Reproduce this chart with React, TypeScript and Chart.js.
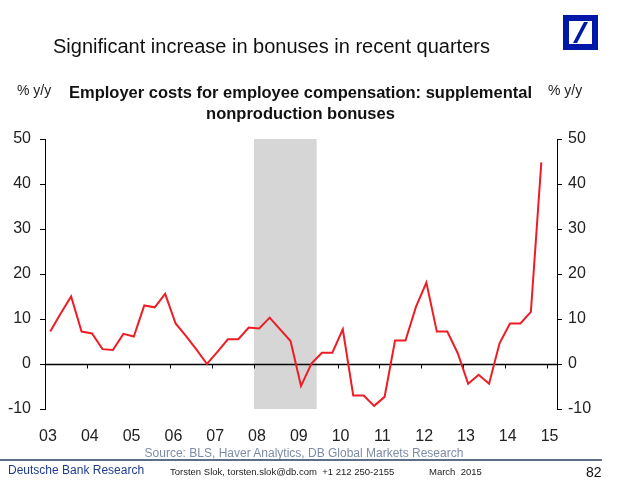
import { useEffect, useRef } from "react";
import { Chart, registerables } from "chart.js";

Chart.register(...registerables);

const quarters: string[] = [
  "2003Q1", "2003Q2", "2003Q3", "2003Q4",
  "2004Q1", "2004Q2", "2004Q3", "2004Q4",
  "2005Q1", "2005Q2", "2005Q3", "2005Q4",
  "2006Q1", "2006Q2", "2006Q3", "2006Q4",
  "2007Q1", "2007Q2", "2007Q3", "2007Q4",
  "2008Q1", "2008Q2", "2008Q3", "2008Q4",
  "2009Q1", "2009Q2", "2009Q3", "2009Q4",
  "2010Q1", "2010Q2", "2010Q3", "2010Q4",
  "2011Q1", "2011Q2", "2011Q3", "2011Q4",
  "2012Q1", "2012Q2", "2012Q3", "2012Q4",
  "2013Q1", "2013Q2", "2013Q3", "2013Q4",
  "2014Q1", "2014Q2", "2014Q3", "2014Q4",
];

const bonusYoY: number[] = [
  7.2, 11.2, 15.0, 7.2,
  6.8, 3.3, 3.1, 6.7,
  6.1, 13.0, 12.6, 15.6,
  9.0, 6.2, 3.2, 0.0,
  2.7, 5.5, 5.5, 8.1,
  7.9, 10.3, 7.7, 5.1,
  -4.9, 0.1, 2.5, 2.5,
  7.7, -7.0, -7.0, -9.3,
  -7.3, 5.2, 5.2, 12.7,
  18.1, 7.2, 7.2, 2.4,
  -4.4, -2.4, -4.4, 4.6,
  9.0, 9.0, 11.6, 44.8,
];

const yearTicks: number[] = [2003, 2004, 2005, 2006, 2007, 2008, 2009, 2010, 2011, 2012, 2013, 2014, 2015];
const yearLabels: string[] = ["03", "04", "05", "06", "07", "08", "09", "10", "11", "12", "13", "14", "15"];
const yTicks: number[] = [-10, 0, 10, 20, 30, 40, 50];
const recession: [number, number] = [2008.0, 2009.5];

const FONT = "'Liberation Sans', Arial, Helvetica, sans-serif";

function quarterToYear(q: string): number {
  const yr = parseInt(q.slice(0, 4), 10);
  const qn = parseInt(q.slice(5), 10);
  return yr + (qn - 0.5) / 4;
}

const decorPlugin = {
  id: "decor",
  beforeDatasetsDraw(chart: any) {
    const { ctx, chartArea, scales } = chart;
    const x = scales.x;
    const y = scales.y;
    ctx.save();
    const x0 = x.getPixelForValue(recession[0]);
    const x1 = x.getPixelForValue(recession[1]);
    ctx.fillStyle = "#d6d6d6";
    ctx.fillRect(x0, chartArea.top, x1 - x0, chartArea.bottom - chartArea.top);
    const y0 = Math.round(y.getPixelForValue(0)) + 0.5;
    ctx.strokeStyle = "#000";
    ctx.lineWidth = 1.3;
    ctx.beginPath();
    ctx.moveTo(chartArea.left, y0);
    ctx.lineTo(chartArea.right, y0);
    ctx.stroke();
    ctx.lineWidth = 1;
    ctx.beginPath();
    for (const yr of yearTicks) {
      const px = Math.round(x.getPixelForValue(yr)) + 0.5;
      ctx.moveTo(px, y0);
      ctx.lineTo(px, y0 + 4);
    }
    ctx.stroke();
    ctx.restore();
  },
};

function ChartCanvas() {
  const ref = useRef<HTMLCanvasElement | null>(null);
  useEffect(() => {
    if (!ref.current) return;
    const points = quarters.map((q, i) => ({ x: quarterToYear(q), y: bonusYoY[i] }));
    const tickFont = { family: FONT, size: 16 };
    const yAxisCommon = {
      type: "linear" as const,
      min: -10,
      max: 50,
      afterBuildTicks: (s: any) => {
        s.ticks = yTicks.map((v) => ({ value: v }));
      },
      grid: { drawOnChartArea: false, drawTicks: true, tickLength: 5, color: "#000", lineWidth: 1 },
      border: { display: true, color: "#000", width: 1 },
      ticks: { font: tickFont, color: "#222", padding: 9 },
    };
    const chart = new Chart(ref.current, {
      type: "line",
      data: {
        datasets: [
          {
            data: points,
            borderColor: "#ee1d25",
            borderWidth: 2,
            pointRadius: 0,
            tension: 0,
            fill: false,
          },
        ],
      },
      options: {
        animation: false,
        responsive: false,
        maintainAspectRatio: false,
        layout: { padding: { top: 139, bottom: 40, left: 0, right: 0 } },
        plugins: { legend: { display: false }, tooltip: { enabled: false } },
        scales: {
          x: {
            type: "linear",
            min: 2003,
            max: 2015.25,
            position: "bottom",
            afterBuildTicks: (s: any) => {
              s.ticks = yearTicks.map((v) => ({ value: v }));
            },
            afterFit: (s: any) => {
              s.height = 45;
            },
            grid: { display: false, drawTicks: false },
            border: { display: false },
            ticks: {
              font: tickFont,
              color: "#222",
              padding: 18,
              labelOffset: 3,
              autoSkip: false,
              maxRotation: 0,
              callback: (v: any) => {
                const i = yearTicks.indexOf(Number(v));
                return i >= 0 ? yearLabels[i] : "";
              },
            },
          },
          y: {
            ...yAxisCommon,
            position: "left",
            afterFit: (s: any) => {
              s.width = 45;
            },
          },
          y2: {
            ...yAxisCommon,
            position: "right",
            ticks: { ...yAxisCommon.ticks, padding: 6 },
            afterFit: (s: any) => {
              s.width = 60;
            },
          },
        },
      } as any,
      plugins: [decorPlugin],
    });
    return () => chart.destroy();
  }, []);
  return (
    <canvas
      ref={ref}
      width={617}
      height={494}
      style={{ position: "absolute", left: 0, top: 0, width: 617, height: 494 }}
    />
  );
}

export default function App() {
  const abs = (o: any) => ({ position: "absolute" as const, fontFamily: FONT, whiteSpace: "nowrap" as const, ...o });
  return (
    <div style={{ position: "fixed", left: 0, top: 0, width: 617, height: 494, background: "#fff", overflow: "hidden" }}>
      <ChartCanvas />
      <div style={abs({ left: 53, top: 35, fontSize: 20, lineHeight: "22px", color: "#111" })}>
        Significant increase in bonuses in recent quarters
      </div>
      <div style={{ position: "absolute", left: 563, top: 15, width: 35, height: 35, background: "#0018a8" }}>
        <div style={{ position: "absolute", left: 6, top: 6, width: 23, height: 23, background: "#fff" }} />
        <svg width={35} height={35} style={{ position: "absolute", left: 0, top: 0 }}>
          <polygon points="10,28 14,28 25,7 21,7" fill="#0018a8" />
        </svg>
      </div>
      <div style={abs({ left: 17, top: 82, fontSize: 14, lineHeight: "16px", color: "#222" })}>% y/y</div>
      <div style={abs({ left: 548, top: 82, fontSize: 14, lineHeight: "16px", color: "#222" })}>% y/y</div>
      <div
        style={abs({
          left: 0,
          top: 82,
          width: 601,
          textAlign: "center",
          fontSize: 16.5,
          fontWeight: "bold",
          lineHeight: "21px",
          color: "#111",
        })}
      >
        Employer costs for employee compensation: supplemental
        <br />
        nonproduction bonuses
      </div>
      <div
        style={abs({ left: 0, top: 446, width: 608, textAlign: "center", fontSize: 12, lineHeight: "14px", color: "#7d8ca6" })}
      >
        Source: BLS, Haver Analytics, DB Global Markets Research
      </div>
      <div style={{ position: "absolute", left: 0, top: 459, width: 602, height: 1.5, background: "#5f6f8a" }} />
      <div style={abs({ left: 8, top: 463, fontSize: 12, lineHeight: "14px", color: "#1f3c8c" })}>Deutsche Bank Research</div>
      <div style={abs({ left: 170, top: 466, fontSize: 9.5, lineHeight: "12px", color: "#222" })}>
        Torsten Slok, torsten.slok@db.com&nbsp;&nbsp;+1 212 250-2155
      </div>
      <div style={abs({ left: 429, top: 466, fontSize: 9.5, lineHeight: "12px", color: "#222" })}>March&nbsp;&nbsp;2015</div>
      <div style={abs({ left: 586, top: 464, fontSize: 14, lineHeight: "16px", color: "#111" })}>82</div>
    </div>
  );
}
